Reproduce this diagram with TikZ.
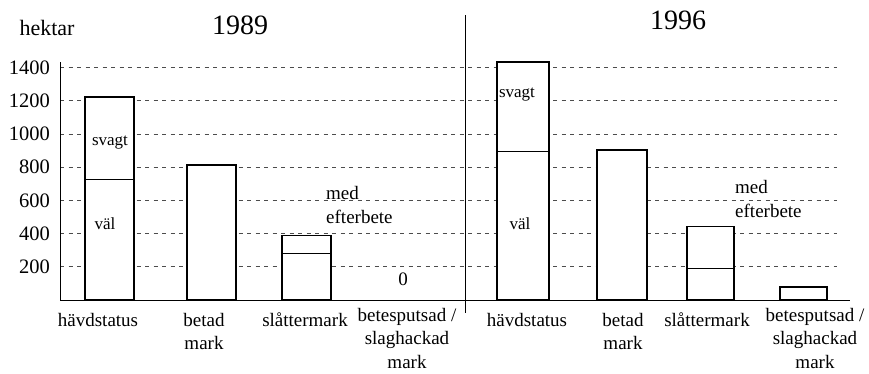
\documentclass[tikz,border=0pt]{standalone}
\usepackage{fontspec}
\setmainfont{Liberation Serif}
\colorlet{gridgray}{black!70}

\begin{document}
\begin{tikzpicture}[x=1pt,y=1pt,
  lbl/.style={inner sep=0,align=center,font=\fontsize{19}{23.5}\selectfont},
  inlbl/.style={inner sep=0,align=left,font=\fontsize{17}{24}\selectfont},
  bar/.style={draw,fill=white,line width=1.1pt},
  gridline/.style={gridgray,line width=0.7pt,dash pattern=on 4pt off 4.5pt}]
\useasboundingbox (0,0) rectangle (869,373);
% axes, grid and bars in hectare units
\begin{scope}[shift={(0,73)},y=0.1661pt]
\foreach \v in {200,400,...,1400}{
  \draw[gridline] (60,\v) -- (837,\v);
  \node[lbl,anchor=east,font=\fontsize{20.5}{23}\selectfont] (tick\v) at (50,\v) {\v};
}
\draw[line width=0.9pt] (60,0) -- (60,1433);
\draw[line width=0.9pt] (60,0) -- (850,0);
\draw[line width=0.9pt] (465,-78) -- (465,1716);
% 1989
\draw[bar] (85,0) rectangle (134,1222);
\draw[line width=0.7pt] (85,728) -- (134,728);
\draw[bar] (187,0) rectangle (236,813);
\draw[bar] (282,0) rectangle (331,391);
\draw[line width=0.7pt] (282,283) -- (331,283);
% 1996
\draw[bar] (497,0) rectangle (549,1433);
\draw[line width=0.7pt] (497,897) -- (549,897);
\draw[bar] (597,0) rectangle (647,903);
\draw[bar] (687,0) rectangle (734,440);
\draw[line width=0.7pt] (687,193) -- (734,193);
\draw[bar] (780,0) rectangle (827,78);
\end{scope}
% titles
\node[inner sep=0,font=\fontsize{22}{24}\selectfont] (unit) at (47,345) {hektar};
\node[inner sep=0,font=\fontsize{28}{30}\selectfont] (yearA) at (240,348) {1989};
\node[inner sep=0,font=\fontsize{28}{30}\selectfont] (yearB) at (678,353) {1996};
% labels inside the plot
\node[inlbl] (svagtA) at (110,230) {svagt};
\node[inlbl] (valA) at (105,149) {väl};
\node[inlbl] (svagtB) at (517,278) {svagt};
\node[inlbl] (valB) at (520,149) {väl};
\node[inlbl,anchor=north west,font=\fontsize{19}{24}\selectfont] (efterA) at (326,187) {med\\efterbete};
\node[inlbl,anchor=north west,font=\fontsize{19}{24}\selectfont] (efterB) at (735,193) {med\\efterbete};
\node[lbl] (zeroA) at (403,94) {0};
% category labels
\node[lbl,anchor=north] (havdA) at (98,60) {hävdstatus};
\node[lbl,anchor=north] (betadA) at (204,60) {betad\\mark};
\node[lbl,anchor=north] (slatA) at (305,60) {slåttermark};
\node[lbl,anchor=north] (putsA) at (407,65) {betesputsad /\\slaghackad\\mark};
\node[lbl,anchor=north] (havdB) at (527,60) {hävdstatus};
\node[lbl,anchor=north] (betadB) at (623,60) {betad\\mark};
\node[lbl,anchor=north] (slatB) at (707,60) {slåttermark};
\node[lbl,anchor=north] (putsB) at (815,65) {betesputsad /\\slaghackad\\mark};
\end{tikzpicture}
\end{document}
